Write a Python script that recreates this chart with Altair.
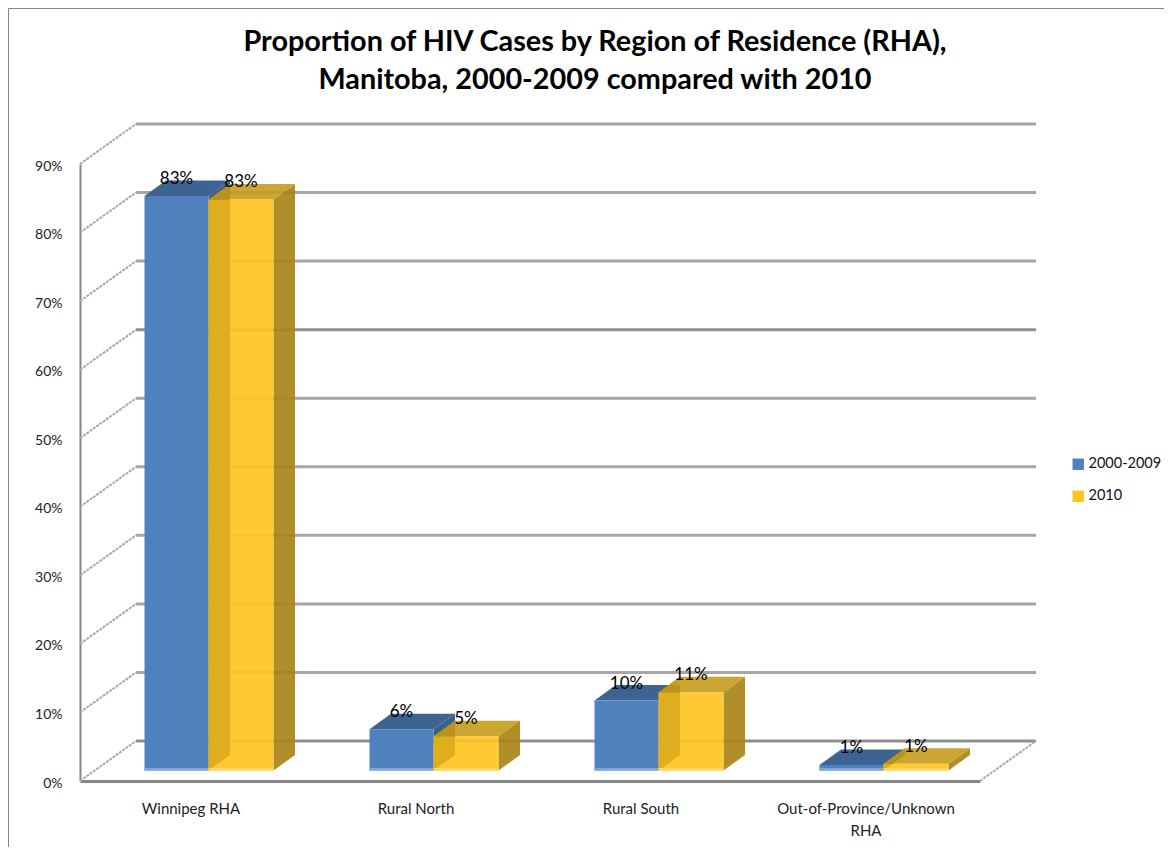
import altair as alt
import pandas as pd

categories = ["Winnipeg RHA", "Rural North", "Rural South", ["Out-of-Province/Unknown", "RHA"]]
series_names = ["2000-2009", "2010"]
values_2000 = [83.8, 6.0, 10.2, 0.8]
values_2010 = [83.3, 5.0, 11.4, 1.0]
labels_2000 = ["83%", "6%", "10%", "1%"]
labels_2010 = ["83%", "5%", "11%", "1%"]
y_ticks = list(range(0, 100, 10))

W, H = 900, 617
PX_X = 4 / W          # category units per pixel
PX_Y = 90 / H         # percent units per pixel
WALL_X, WALL_Y = 56 * PX_X, 40 * PX_Y
DEPTH_X, DEPTH_Y = 21.5 * PX_X, 15.5 * PX_Y
BASE = 10.5 * PX_Y
SLOTS = {"2000-2009": (-48 * PX_X, 16 * PX_X), "2010": (16 * PX_X, 81 * PX_X)}
FONT = "Lato"

label_expr = "[" + ",".join(
    ("[" + ",".join(f"'{p}'" for p in c) + "]") if isinstance(c, list) else f"'{c}'" for c in categories
) + "][datum.value]"

XAX = alt.Axis(title=None, values=[0, 1, 2, 3], labelExpr=label_expr, ticks=False, grid=False, domainColor="#868686",
               domainWidth=3, labelFont=FONT, labelFontSize=15, labelColor="#222222", labelPadding=27,
               labelLineHeight=22, labelAngle=0, labelOverlap=False, labelBaseline="middle", labelOffset=-2)
YAX = alt.Axis(title=None, values=y_ticks, labelExpr="datum.value + '%'", ticks=False, grid=False,
               domainColor="#868686", domainWidth=2, labelFont=FONT, labelFontSize=14, labelColor="#222222",
               labelPadding=18, labelOffset=2)
PX = alt.X("x:Q", scale=alt.Scale(domain=[-0.5, 3.5], nice=False, zero=False), axis=XAX)
PY = alt.Y("y:Q", scale=alt.Scale(domain=[0, 90], nice=False, zero=False), axis=YAX)


def faces(name, vals):
    a, b = SLOTS[name]
    front, strip, side, left, top, text = [], [], [], [], [], []
    for i, v in enumerate(vals):
        x0, x1 = i + a, i + b
        y0, y1 = BASE, v + BASE
        front.append(dict(series=name, x=x0, x2=x1, y=y0, y2=y1))
        strip.append(dict(x=x0, x2=x1, y=y0, y2=y0 + 2.5 * PX_Y))
        for px, lo, hi in [(x1, y0, y1), (x1 + DEPTH_X, y0 + DEPTH_Y, y1 + DEPTH_Y)]:
            side.append(dict(bar=i, x=px, y=lo, y2=hi))
        for px, lo, hi in [(x0, y0, y1), (x0 + DEPTH_X, y0 + DEPTH_Y, y1 + DEPTH_Y)]:
            left.append(dict(bar=i, x=px, y=lo, y2=hi))
        for px, lo, hi in [
            (x0, y1, y1), (x0 + DEPTH_X, y1, y1 + DEPTH_Y),
            (x1, y1, y1 + DEPTH_Y), (x1 + DEPTH_X, y1 + DEPTH_Y, y1 + DEPTH_Y),
        ]:
            top.append(dict(bar=i, x=px, y=lo, y2=hi))
        text.append(dict(x=(x0 + x1) / 2, y=y1))
    return [pd.DataFrame(d) for d in (front, strip, side, left, top, text)]


def area(df, color, opacity=1.0):
    return alt.Chart(df).mark_area(color=color, opacity=opacity, line=False).encode(
        x=PX, y=PY, y2="y2:Q", detail="bar:N"
    )


def rect(df, opacity, color=None):
    enc = dict(x=PX, x2="x2:Q", y=PY, y2="y2:Q")
    if color is None:
        return alt.Chart(df).mark_rect(opacity=opacity).encode(
            color=alt.Color("series:N", scale=alt.Scale(domain=series_names, range=["#4f81bd", "#ffc423"]),
                            legend=alt.Legend(title=None, orient="none", legendX=991, legendY=293,
                                              symbolType="square", symbolSize=130, symbolOpacity=1,
                                              labelFont=FONT, labelFontSize=14.5, labelColor="#111111",
                                              labelOffset=3, rowPadding=17, symbolStrokeWidth=0)),
            **enc)
    return alt.Chart(df).mark_rect(opacity=opacity, color=color).encode(**enc)


def labels(df, txt):
    df = df.assign(label=txt)
    return alt.Chart(df).mark_text(font=FONT, fontSize=17, color="#000000", dy=-17).encode(
        x=PX, y=PY, text="label:N")


# walls
wall_back = pd.DataFrame([dict(t=t, x=x, y=t + WALL_Y) for t in y_ticks
                          for x in (-0.5 + WALL_X, 3.5 + WALL_X)])
wall_side = pd.DataFrame([dict(t=t, k=k, x=-0.5 + k * WALL_X, y=t + k * WALL_Y) for t in y_ticks for k in (0, 1)])
floor_side = pd.DataFrame([dict(k=k, x=3.5 + k * WALL_X, y=k * WALL_Y) for k in (0, 1)])

back = alt.Chart(wall_back).mark_line(strokeWidth=3).encode(
    x=PX, y=PY, detail="t:N",
    color=alt.condition("datum.t == 0 || datum.t == 60", alt.value("#8f8f8f"), alt.value("#a6a6a6")))
side_lines = alt.Chart(wall_side).mark_line(strokeWidth=2, color="#a9a9a9", strokeDash=[3, 1]).encode(
    x=PX, y=PY, detail="t:N", order="k:Q")
floor_line = alt.Chart(floor_side).mark_line(strokeWidth=2, color="#a9a9a9", strokeDash=[3, 1]).encode(
    x=PX, y=PY, order="k:Q")

frame_left = alt.Chart(pd.DataFrame({"a": [0]})).mark_rule(color="#868686", strokeWidth=1).encode(
    x=alt.value(-71.5), y=alt.value(-155.5), y2=alt.value(683))
frame_top = alt.Chart(pd.DataFrame({"a": [0]})).mark_rule(color="#868686", strokeWidth=1).encode(
    y=alt.value(-155.5), x=alt.value(-71.5), x2=alt.value(1084))

bf, bs, bside, bleft, btop, btext = faces("2000-2009", values_2000)
yf, ys, yside, yleft, ytop, ytext = faces("2010", values_2010)

chart = alt.layer(
    frame_left, frame_top, back, side_lines, floor_line,
    area(bside, "#3a5f8e"), area(btop, "#3d6391"), rect(bf, 1.0), rect(bs, 1.0, "#7fa6d6"),
    area(yside, "#a98618", 0.92), area(ytop, "#c79c1c", 0.9), rect(yf, 0.92),
    area(yleft, "#b88f00", 0.3), rect(ys, 1.0, "#ffd75e"),
    labels(btext, labels_2000), labels(ytext, labels_2010),
).properties(
    width=W, height=H,
    title=alt.TitleParams(
        text=["Proportion of HIV Cases by Region of Residence (RHA),", "Manitoba, 2000-2009 compared with 2010"],
        font=FONT, fontSize=28.8, fontWeight="bold", color="#000000", anchor="middle", dx=65, offset=-87, lineHeight=38),
    padding={"left": 72, "top": 156, "right": 184, "bottom": 66},
    autosize=alt.AutoSizeParams(type="none"),
).configure_view(stroke=None)

chart.save("out.html", embed_options={"renderer": "svg", "actions": False})
